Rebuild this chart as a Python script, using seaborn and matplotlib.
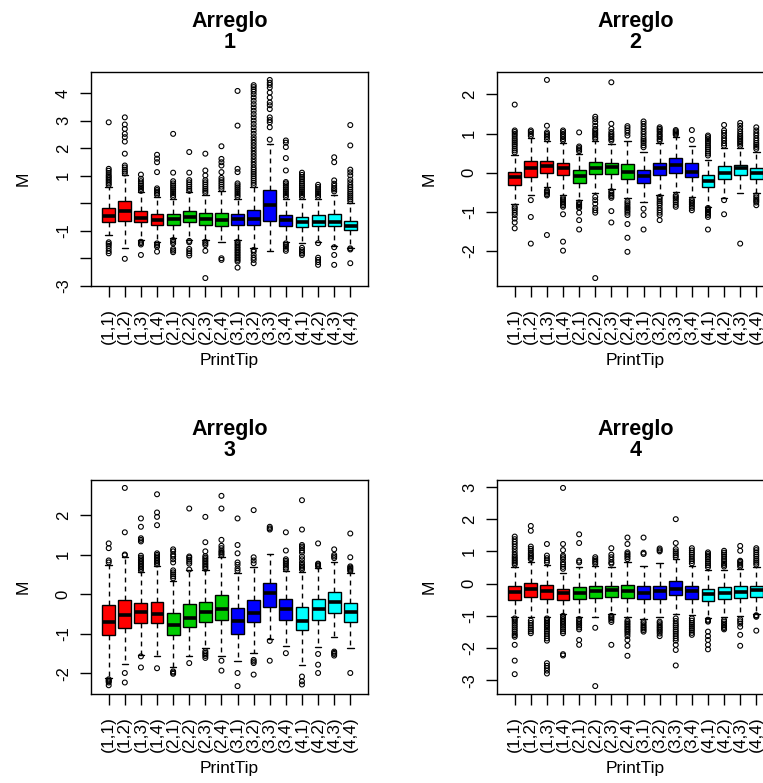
import numpy as np
import pandas as pd
import matplotlib
matplotlib.use("Agg")
import matplotlib.pyplot as plt
import seaborn as sns

sns.set_style("ticks")
plt.rcParams["font.family"] = ["Liberation Sans", "DejaVu Sans"]
plt.rcParams["axes.edgecolor"] = "black"
plt.rcParams["xtick.color"] = "black"
plt.rcParams["ytick.color"] = "black"
plt.rcParams["text.color"] = "black"
plt.rcParams["axes.labelcolor"] = "black"

tips = ["(1,1)", "(1,2)", "(1,3)", "(1,4)", "(2,1)", "(2,2)", "(2,3)", "(2,4)",
        "(3,1)", "(3,2)", "(3,3)", "(3,4)", "(4,1)", "(4,2)", "(4,3)", "(4,4)"]
tip_colors = ["#FF0000"] * 4 + ["#00CD00"] * 4 + ["#0000FF"] * 4 + ["#00FFFF"] * 4

# Arreglo 1 : whisker ends, quartiles, median and outliers per print tip
a1_lo = [-1.16, -1.61, -1.34, -1.40, -1.28, -1.34, -1.34, -1.42, -1.34, -1.64, -1.74, -1.40, -1.46, -1.42, -1.54, -1.61]
a1_q1 = [-0.69, -0.64, -0.70, -0.78, -0.78, -0.70, -0.78, -0.84, -0.78, -0.78, -0.64, -0.83, -0.88, -0.84, -0.84, -0.98]
a1_med = [-0.45, -0.29, -0.53, -0.61, -0.58, -0.51, -0.58, -0.61, -0.58, -0.58, -0.05, -0.61, -0.68, -0.68, -0.70, -0.83]
a1_q3 = [-0.16, 0.08, -0.28, -0.40, -0.40, -0.28, -0.34, -0.34, -0.40, -0.23, 0.49, -0.43, -0.49, -0.43, -0.40, -0.64]
a1_hi = [0.59, 1.01, 0.39, 0.23, 0.17, 0.39, 0.31, 0.43, 0.17, 0.59, 2.16, 0.17, 0.17, 0.15, 0.29, -0.01]
a1_out = [
    [0.66, 0.72, 0.78, 0.84, 0.90, 0.96, 1.02, 1.10, 1.18, 1.25, 2.94, -1.42, -1.48, -1.55, -1.64, -1.74, -1.82],
    [1.08, 1.15, 1.22, 1.30, 1.37, 1.80, 2.24, 2.40, 2.52, 2.70, 2.86, 3.12, -2.02],
    [0.45, 0.52, 0.58, 0.65, 0.72, 0.80, 0.89, 1.04, -1.40, -1.45, -1.50, -1.88],
    [0.30, 0.36, 0.42, 0.48, 0.54, 1.13, 1.49, 1.62, 1.76, -1.46, -1.52, -1.58, -1.76],
    [0.23, 0.30, 0.37, 0.44, 0.51, 0.58, 0.65, 0.72, 0.80, 1.11, 2.52, -1.34, -1.40, -1.46, -1.66, -1.72, -1.78],
    [0.45, 0.52, 0.60, 0.68, 0.76, 0.84, 1.11, 1.86, -1.37, -1.42, -1.66, -1.74, -1.82, -1.90],
    [0.38, 0.45, 0.52, 0.60, 0.68, 0.76, 0.84, 1.01, 1.19, 1.80, -1.40, -1.46, -1.52, -1.73, -2.72],
    [0.52, 0.60, 0.68, 0.76, 0.84, 0.92, 1.13, 1.37, 1.49, 1.61, 2.07, -2.00, -2.06],
    [0.23, 0.30, 0.37, 0.44, 0.51, 0.58, 0.65, 0.72, 1.13, 1.25, 2.82, 4.08, -1.40, -1.46, -1.52, -1.58, -1.64,
     -1.70, -1.76, -1.82, -1.88, -1.94, -2.00, -2.06, -2.12, -2.34],
    [0.66, 0.74, 0.82, 0.90, 0.98, 1.06, 1.14, 1.22, 1.30, 1.40, 1.50, 1.60, 1.70, 1.80, 1.90, 2.00, 2.10, 2.20,
     2.30, 2.40, 2.52, 2.64, 2.76, 2.88, 3.00, 3.12, 3.24, 3.36, 3.48, 3.60, 3.72, 3.84, 3.96, 4.06, 4.14, 4.22,
     4.29, -1.70, -1.76, -1.88, -1.98, -2.06, -2.18],
    [2.31, 2.76, 2.94, 3.02, 3.12, 3.42, 3.56, 3.66, 3.84, 4.02, 4.20, 4.30, 4.38, 4.48],
    [0.23, 0.30, 0.37, 0.44, 0.51, 0.58, 0.65, 0.72, 0.77, 1.19, 1.64, 2.04, 2.20, 2.28, -1.46, -1.52, -1.58, -1.66, -1.73],
    [0.23, 0.30, 0.37, 0.44, 0.51, 0.58, 0.65, 0.72, 0.80, 0.88, 0.95, 1.03, 1.11, -1.62, -1.70, -1.76, -1.82, -1.88],
    [0.23, 0.30, 0.37, 0.44, 0.51, 0.59, 0.67, -1.45, -1.98, -2.06, -2.14, -2.24],
    [0.43, 0.50, 0.55, 0.63, 0.71, 0.83, 1.49, 1.67, -1.60, -1.88, -2.24],
    [0.07, 0.14, 0.21, 0.28, 0.35, 0.42, 0.50, 0.58, 0.66, 0.76, 0.86, 1.01, 1.12, 1.22, 2.10, 2.84, -1.64, -1.68, -2.18],
]
a1_yticks = [-3, -2, -1, 0, 1, 2, 3, 4]
a1_ylabels = ["-3", "", "-1", "", "1", "2", "3", "4"]

# Arreglo 2
a2_lo = [-0.81, -0.58, -0.37, -0.58, -0.70, -0.51, -0.41, -0.64, -0.75, -0.56, -0.48, -0.62, -0.87, -0.64, -0.53, -0.53]
a2_q1 = [-0.32, -0.11, -0.01, -0.07, -0.26, -0.03, -0.04, -0.15, -0.26, -0.07, -0.01, -0.11, -0.36, -0.15, -0.07, -0.15]
a2_med = [-0.11, 0.12, 0.16, 0.13, -0.09, 0.13, 0.14, 0.02, -0.09, 0.13, 0.20, 0.03, -0.22, 0.00, 0.12, 0.00]
a2_q3 = [0.02, 0.31, 0.31, 0.25, 0.06, 0.27, 0.25, 0.23, 0.06, 0.25, 0.38, 0.25, -0.05, 0.16, 0.20, 0.13]
a2_hi = [0.46, 0.89, 0.80, 0.76, 0.48, 0.80, 0.74, 0.80, 0.53, 0.76, 0.91, 0.68, 0.33, 0.63, 0.63, 0.53]
a2_out = [
    [0.52, 0.57, 0.62, 0.68, 0.73, 0.78, 0.83, 0.88, 0.94, 0.99, 1.04, 1.08, 1.74, -0.87, -0.91, -0.96, -1.02,
     -1.08, -1.17, -1.27, -1.42],
    [0.94, 0.99, 1.04, 1.08, -0.70, -1.13, -1.81],
    [0.86, 0.91, 0.95, 0.99, 1.03, 1.20, 2.37, -0.45, -0.48, -0.51, -0.55, -0.58, -1.59],
    [0.82, 0.86, 0.91, 0.95, 0.99, 1.04, 1.08, -0.64, -0.68, -0.71, -0.75, -0.79, -0.83, -0.87, -1.06, -1.76, -1.99],
    [0.55, 0.59, 0.63, 0.67, 1.03, -0.76, -0.80, -0.83, -0.87, -0.90, -1.02, -1.21, -1.45],
    [0.86, 0.90, 0.95, 0.99, 1.03, 1.08, 1.12, 1.20, 1.29, 1.37, 1.43, -0.62, -0.70, -0.79, -0.90, -0.96, -1.02, -2.69],
    [0.82, 0.86, 0.91, 0.95, 0.99, 1.04, 1.12, 1.25, 2.31, -0.47, -0.51, -0.56, -0.60, -0.64, -0.98, -1.27],
    [0.95, 1.02, 1.08, 1.14, 1.19, -0.73, -0.78, -0.83, -0.88, -0.92, -0.97, -1.02, -1.08, -1.31, -1.66, -2.02],
    [0.65, 0.70, 0.76, 0.81, 0.86, 0.92, 0.99, 1.05, 1.12, 1.18, 1.25, 1.31, -0.92, -1.08, -1.45],
    [0.82, 0.86, 0.91, 0.95, 0.99, 1.04, 1.08, 1.12, 1.16, -0.62, -0.67, -0.73, -0.78, -0.83, -0.90, -0.96, -1.02,
     -1.08, -1.21],
    [0.97, 1.00, 1.03, 1.06, 1.09, -0.58, -0.62, -0.66, -0.71, -0.76, -0.82, -0.87],
    [0.84, 1.09, -0.69, -0.73, -0.77, -0.81, -0.86, -0.90, -0.96],
    [0.44, 0.49, 0.54, 0.60, 0.65, 0.70, 0.76, 0.81, 0.86, 0.91, 0.95, -0.90, -0.93, -0.96, -1.00, -1.04, -1.08,
     -1.13, -1.45],
    [0.69, 0.75, 0.82, 0.88, 0.95, 1.02, 1.08, 1.22, -0.70, -1.06],
    [0.69, 0.74, 0.78, 0.82, 0.86, 0.90, 0.94, 0.99, 1.05, 1.12, 1.20, 1.27, -1.81],
    [0.61, 0.66, 0.71, 0.76, 0.82, 0.88, 0.95, 1.01, 1.08, 1.16, -0.58, -0.63, -0.68, -0.72, -0.76, -0.83],
]
a2_yticks = [-2, -1, 0, 1, 2]
a2_ylabels = ["-2", "-1", "0", "1", "2"]

# Arreglo 3
a3_lo = [-2.12, -1.76, -1.53, -1.55, -1.83, -1.55, -1.35, -1.55, -1.68, -1.48, -1.12, -1.30, -1.80, -1.34, -1.09, -1.37]
a3_q1 = [-1.03, -0.86, -0.74, -0.74, -1.03, -0.82, -0.70, -0.65, -1.01, -0.70, -0.32, -0.65, -0.91, -0.65, -0.47, -0.70]
a3_med = [-0.70, -0.53, -0.45, -0.49, -0.78, -0.59, -0.45, -0.38, -0.68, -0.48, 0.03, -0.38, -0.68, -0.38, -0.20, -0.45]
a3_q3 = [-0.28, -0.15, -0.22, -0.19, -0.47, -0.26, -0.20, -0.03, -0.36, -0.15, 0.27, -0.12, -0.33, -0.12, 0.05, -0.22]
a3_hi = [0.74, 0.93, 0.56, 0.72, 0.34, 0.60, 0.60, 0.93, 0.53, 0.68, 1.02, 0.59, 0.56, 0.66, 0.80, 0.53]
a3_out = [
    [0.80, 0.85, 1.16, 1.28, -2.15, -2.18, -2.20, -2.23, -2.30],
    [0.98, 1.00, 1.56, 2.68, -1.99, -2.23],
    [0.60, 0.64, 0.68, 0.72, 0.76, 0.80, 0.84, 0.88, 0.92, 0.97, 1.33, 1.37, 1.41, 1.70, 1.91, -1.57, -1.85],
    [0.75, 0.79, 0.83, 0.87, 0.91, 0.95, 0.99, 1.03, 1.74, 1.95, 2.06, 2.52, -1.87],
    [0.40, 0.45, 0.50, 0.55, 0.60, 0.80, 0.88, 0.95, 1.00, 1.08, 1.13, -1.95, -1.98, -2.01],
    [0.62, 0.77, 0.82, 0.87, 0.92, 0.95, 2.16, -1.74],
    [0.64, 0.68, 0.72, 0.76, 0.80, 0.84, 0.88, 0.92, 0.96, 1.08, 1.31, 1.95, -1.44, -1.48, -1.52, -1.56, -1.61],
    [0.98, 1.02, 1.06, 1.10, 1.16, 1.22, 1.37, 2.16, 2.48, -1.68, -1.93],
    [0.59, 0.65, 0.74, 0.80, 1.03, 1.24, 1.91, -1.99, -2.32],
    [0.78, 0.85, 0.93, 2.12, -1.66, -1.70, -1.74, -2.03],
    [1.63, 1.66, 1.70, -1.18, -1.68],
    [0.63, 0.67, 0.72, 0.76, 0.80, 0.84, 0.88, 1.10, 1.56, -1.49],
    [0.62, 0.66, 0.70, 0.74, 0.80, 0.88, 0.95, 1.05, 1.10, 1.16, 1.20, 1.24, 1.63, 2.37, -2.08, -2.20, -2.28],
    [0.70, 0.72, 0.75, 0.77, 1.28, -1.51, -1.78, -1.99],
    [0.91, 0.95, 0.99, 1.13, -1.45, -1.48, -1.51, -1.55],
    [0.58, 0.61, 0.64, 0.67, 0.70, 0.93, 1.53, -1.99],
]
a3_yticks = [-2, -1, 0, 1, 2]
a3_ylabels = ["-2", "-1", "0", "1", "2"]

# Arreglo 4
a4_lo = [-1.03, -1.03, -1.03, -0.95, -1.03, -1.05, -0.93, -1.05, -1.11, -1.03, -0.93, -0.98, -1.08, -1.03, -1.01, -0.93]
a4_q1 = [-0.50, -0.40, -0.47, -0.50, -0.49, -0.44, -0.40, -0.44, -0.49, -0.49, -0.36, -0.47, -0.54, -0.49, -0.45, -0.40]
a4_med = [-0.26, -0.18, -0.23, -0.29, -0.29, -0.23, -0.21, -0.23, -0.29, -0.23, -0.16, -0.23, -0.31, -0.29, -0.26, -0.21]
a4_q3 = [-0.08, 0.02, -0.03, -0.16, -0.09, -0.06, -0.06, -0.03, -0.08, -0.08, 0.07, -0.06, -0.16, -0.11, -0.06, -0.06]
a4_hi = [0.53, 0.68, 0.59, 0.32, 0.51, 0.56, 0.53, 0.68, 0.56, 0.63, 0.76, 0.56, 0.41, 0.41, 0.46, 0.53]
a4_out = [
    [0.59, 0.64, 0.69, 0.74, 0.79, 0.84, 0.90, 0.98, 1.07, 1.15, 1.23, 1.30, 1.38, 1.46, -1.08, -1.13, -1.18,
     -1.24, -1.30, -1.36, -1.42, -1.48, -1.55, -1.60, -1.65, -1.90, -2.39, -2.81],
    [0.76, 0.80, 0.85, 0.90, 0.95, 1.02, 1.08, 1.15, 1.64, 1.79, -1.15, -1.22, -1.29, -1.36, -1.42, -1.48, -1.54],
    [0.66, 0.72, 0.79, 0.87, 1.23, -1.08, -1.12, -1.17, -1.22, -1.27, -1.32, -1.37, -1.43, -1.49, -1.56, -1.63,
     -1.70, -1.77, -2.47, -2.55, -2.62, -2.70, -2.79],
    [0.46, 0.52, 0.59, 0.66, 0.76, 0.82, 0.87, 1.04, 1.23, 2.97, -1.00, -1.05, -1.10, -1.15, -1.20, -1.25, -1.30,
     -1.36, -1.42, -1.48, -1.54, -2.19, -2.23],
    [0.66, 0.71, 1.26, 1.53, -1.10, -1.15, -1.20, -1.25, -1.30, -1.36, -1.42, -1.75, -1.90],
    [0.61, 0.66, 0.71, 0.76, 0.82, -1.37, -3.18],
    [0.62, 0.66, 0.74, 0.82, 0.90, 1.10, -1.00, -1.04, -1.08, -1.13, -1.19, -1.90],
    [0.76, 0.82, 0.87, 0.92, 0.97, 1.23, 1.43, -1.15, -1.20, -1.25, -1.30, -1.35, -1.40, -1.45, -1.50, -1.56,
     -1.63, -1.75, -1.93, -2.24],
    [0.92, 0.96, 1.43, -1.18, -1.23, -1.29, -1.34, -1.39, -1.44, -1.49],
    [1.00, 1.04, 1.09, -1.18, -1.23, -1.29, -1.34, -1.39, -1.44, -1.49, -1.55, -1.63],
    [0.82, 0.88, 0.94, 1.00, 1.07, 1.26, 2.00, -1.08, -1.16, -1.24, -1.30, -1.36, -1.43, -1.49, -1.56, -1.63,
     -1.70, -1.77, -1.90, -2.06, -2.54],
    [0.63, 0.70, 0.76, 0.83, 0.90, 0.96, 1.03, 1.10, -1.08, -1.15, -1.22, -1.28, -1.34, -1.40, -1.46, -1.53, -1.59],
    [0.51, 0.57, 0.63, 0.69, 0.76, 0.82, 0.87, 0.92, 0.97, -1.12, -1.15, -1.18, -1.49, -1.63, -1.75, -1.90, -2.04],
    [0.53, 0.58, 0.63, 0.70, 0.76, 0.83, 0.90, 0.96, 1.02, -1.13, -1.18, -1.24, -1.29, -1.34, -1.38, -1.42],
    [0.53, 0.58, 0.63, 0.68, 0.71, 1.02, 1.17, -1.11, -1.17, -1.24, -1.34, -1.59, -1.93],
    [0.59, 0.65, 0.71, 0.77, 0.84, 0.90, 0.97, 1.04, 1.10, -0.98, -1.00, -1.03, -1.46],
]
a4_yticks = [-3, -2, -1, 0, 1, 2, 3]
a4_ylabels = ["-3", "-2", "-1", "0", "1", "2", "3"]

panels = [
    ("1", (a1_lo, a1_q1, a1_med, a1_q3, a1_hi), a1_out, a1_yticks, a1_ylabels),
    ("2", (a2_lo, a2_q1, a2_med, a2_q3, a2_hi), a2_out, a2_yticks, a2_ylabels),
    ("3", (a3_lo, a3_q1, a3_med, a3_q3, a3_hi), a3_out, a3_yticks, a3_ylabels),
    ("4", (a4_lo, a4_q1, a4_med, a4_q3, a4_hi), a4_out, a4_yticks, a4_ylabels),
]

W, H = 763, 783
fig = plt.figure(figsize=(W / 100, H / 100), dpi=100)

# frame corners in pixels (left, top); the right column runs past the image edge
frames = [(91, 72), (497, 72), (91, 480), (497, 480)]
fw, fh = 277, 214

palette = dict(zip(tips, tip_colors))

for (num, stats, outs, yt, yl), (x0, y0) in zip(panels, frames):
    ax = fig.add_axes([x0 / W, 1 - (y0 + fh) / H, fw / W, fh / H])

    box_df = pd.DataFrame(
        [{"PrintTip": t, "M": v} for i, t in enumerate(tips) for v in (s[i] for s in stats)]
    )
    out_df = pd.DataFrame(
        [{"PrintTip": t, "M": v} for t, vals in zip(tips, outs) for v in vals]
    )

    sns.boxplot(data=box_df, x="PrintTip", y="M", order=tips, hue="PrintTip",
                hue_order=tips, palette=palette, legend=False, saturation=1,
                whis=(0, 100), width=0.8, linecolor="black", linewidth=1.0,
                showfliers=False, medianprops={"linewidth": 2.6},
                whiskerprops={"linestyle": (0, (3.5, 3))}, ax=ax)
    sns.stripplot(data=out_df, x="PrintTip", y="M", order=tips, jitter=False,
                  size=3.5, color="black", facecolors="none", edgecolor="black",
                  linewidth=0.8, ax=ax)

    allv = np.concatenate([np.ravel(stats), np.concatenate(outs)])
    rng = allv.max() - allv.min()
    ax.set_ylim(allv.min() - 0.04 * rng, allv.max() + 0.04 * rng)
    ax.set_xlim(-1.1, 16.1)

    ax.set_xticks(range(len(tips)))
    ax.set_xticklabels(tips, rotation=90, fontsize=12.5)
    ax.set_yticks(yt)
    ax.set_yticklabels(yl, rotation=90, fontsize=12)
    for lbl in ax.get_yticklabels():
        lbl.set_va("center")
    ax.tick_params(axis="both", direction="out", length=8, width=1)
    ax.tick_params(axis="x", pad=8)
    ax.tick_params(axis="y", pad=6.5)

    for sp in ax.spines.values():
        sp.set_visible(True)
        sp.set_linewidth(1.0)
        sp.set_color("black")

    ax.set_xlabel("PrintTip", fontsize=12.5)
    ax.set_ylabel("M", fontsize=12.5)
    ax.xaxis.set_label_coords(0.5, -0.312)
    ax.yaxis.set_label_coords(-0.218, 0.5)
    ax.set_title("Arreglo\n" + num, fontsize=15.5, fontweight="bold",
                 linespacing=1.0, pad=17)

fig.savefig("out.png", dpi=100)
